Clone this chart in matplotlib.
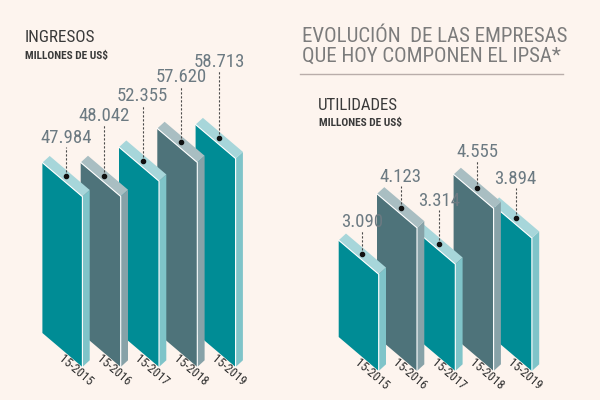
import numpy as np
import matplotlib
matplotlib.use("Agg")
import matplotlib.pyplot as plt
from matplotlib.patches import Polygon

# --- data (miles de millones de US$) ---
periodos = ["15-2015", "15-2016", "15-2017", "15-2018", "15-2019"]
ingresos = [47.984, 48.042, 52.355, 57.620, 58.713]
utilidades = [3.090, 4.123, 3.314, 4.555, 3.894]

# --- look ---
BG = "#fdf4ee"
TEAL = ("#008c95", "#7fc4c9", "#a7d6da")     # front, side, top
SLATE = ("#4e737a", "#87a2a8", "#a9bec2")
FONT = ["Roboto Condensed", "DejaVu Sans Condensed", "Lato", "DejaVu Sans"]
plt.rcParams["font.family"] = FONT

W_PX, SLANT_PX, DX_PX, DY_PX = 40, 34, 7.3, 6.7   # bar front width, top slant, depth
STEP_PX = 38.3

# gap (px) between dot on top face and the value label
gap_ing = [38, 60, 65, 65, 76]
gap_uti = [32, 31, 43, 36, 39]


def draw_bars(ax, values, base, px_y, gaps):
    w = W_PX / STEP_PX
    slant = SLANT_PX / px_y
    dx = DX_PX / STEP_PX
    dd = DY_PX / px_y
    for i, v in enumerate(values):
        front_c, side_c, top_c = TEAL if i % 2 == 0 else SLATE
        z = 10 - i
        x0 = i
        front = [(x0, base), (x0, v), (x0 + w, v - slant), (x0 + w, base - slant)]
        side = [(x0 + w, base - slant), (x0 + w, v - slant),
                (x0 + w + dx, v - slant + dd), (x0 + w + dx, base - slant + dd)]
        top = [(x0, v), (x0 + dx, v + dd), (x0 + w + dx, v - slant + dd), (x0 + w, v - slant)]
        for pts, c in ((front, front_c), (side, side_c), (top, top_c)):
            ax.add_patch(Polygon(pts, closed=True, fc=c, ec="none", zorder=z))
        # white highlight edges
        ax.plot([x0, x0 + w, x0 + w], [v, v - slant, base - slant],
                color="white", lw=0.8, zorder=z)

        # dot + dashed leader + value
        dot_x = x0 + w / 2 + dx / 2
        dot_y = v - slant / 2 + dd / 2
        lab_y = dot_y + gaps[i] / px_y
        ax.plot([dot_x, dot_x], [dot_y, lab_y - 9 / px_y], color="#4a4a4a",
                lw=0.8, ls=(0, (2, 1.6)), zorder=20)
        ax.plot(dot_x, dot_y, "o", ms=3, color="#111111", zorder=21)
        ax.text(dot_x, lab_y, f"{v:.3f}", ha="center", va="center",
                fontsize=13.5, color="#6c7a82", zorder=21)

        # period label under the bar
        ax.text(x0 + w - 7 / STEP_PX, base - slant - 3 / px_y, periodos[i],
                rotation=-40.4, rotation_mode="anchor", ha="center", va="center",
                fontsize=9, color="#2e2e2e", zorder=21)


fig = plt.figure(figsize=(6, 4), dpi=100, facecolor=BG)

# Ingresos: value 0 at y=333px (from top), 3.55 px per unit, first bar at x=42.4px
ax1 = fig.add_axes([0, 0, 0.5, 1])
px1 = 3.55
ax1.set_xlim(-42.4 / STEP_PX, (300 - 42.4) / STEP_PX)
ax1.set_ylim(-67 / px1, 333 / px1)
draw_bars(ax1, ingresos, 0.0, px1, gap_ing)

# Utilidades: truncated base, bottom at y=337px, first bar at x=338.7px
ax2 = fig.add_axes([0.5, 0, 0.5, 1])
px2 = 44.9
base2 = 0.935
ax2.set_xlim(-38.7 / STEP_PX, (300 - 38.7) / STEP_PX)
ax2.set_ylim(base2 - 63 / px2, base2 + 337 / px2)
draw_bars(ax2, utilidades, base2, px2, gap_uti)

for ax in (ax1, ax2):
    ax.set_facecolor("none")
    ax.axis("off")

# titles
fig.text(302 / 600, 1 - 36 / 400, "EVOLUCIÓN  DE LAS EMPRESAS", fontsize=15,
         color="#7c7c7c", va="center", ha="left")
fig.text(302 / 600, 1 - 56 / 400, "QUE HOY COMPONEN EL IPSA*", fontsize=15,
         color="#7c7c7c", va="center", ha="left")
fig.add_artist(plt.Line2D([300 / 600, 563 / 600], [1 - 74 / 400, 1 - 74 / 400],
                          color="#b9adaa", lw=1))

fig.text(25 / 600, 1 - 38 / 400, "INGRESOS", fontsize=12.3, color="#3a3a3a",
         va="center", ha="left")
fig.text(25 / 600, 1 - 55.5 / 400, "MILLONES DE US$", fontsize=8.2, color="#3a3a3a",
         fontweight="bold", va="center", ha="left")
fig.text(318 / 600, 1 - 106 / 400, "UTILIDADES", fontsize=12.2, color="#3a3a3a",
         va="center", ha="left")
fig.text(319 / 600, 1 - 123 / 400, "MILLONES DE US$", fontsize=8.2, color="#3a3a3a",
         fontweight="bold", va="center", ha="left")

fig.savefig("out.png", dpi=100, facecolor=BG)
